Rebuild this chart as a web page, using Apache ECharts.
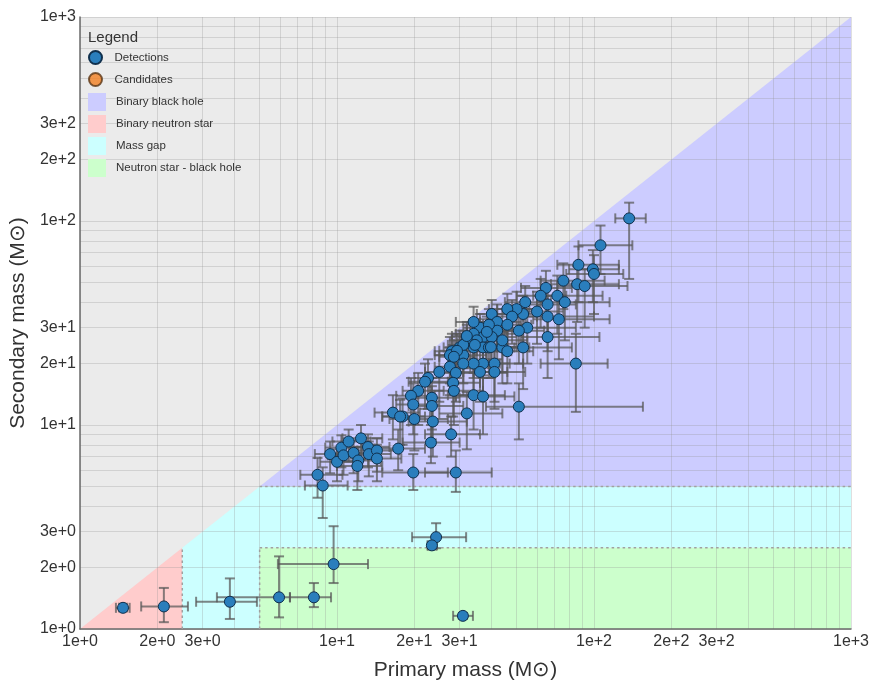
<!DOCTYPE html>
<html><head><meta charset="utf-8">
<script src="https://cdn.jsdelivr.net/npm/echarts@6/dist/echarts.min.js"></script>
<style>html,body{margin:0;padding:0;background:#fff}#chart{width:873px;height:686px}</style>
</head><body><div id="chart"></div>
<script>
// Detections: primary mass, secondary mass and 90% credible bounds (solar masses)
const primaryMass = [
  1.47, 2.12, 3.83, 5.95, 9.7, 8.13, 24.3, 23.4, 30.9,
  137, 106, 87, 99, 100, 76, 86, 92, 65, 62, 72, 77, 66, 54, 60, 73, 66, 53, 50, 46,
  48, 40, 42, 46, 55, 51, 42, 36, 34, 39, 37, 34, 35, 32, 40, 30, 28, 27.5, 31, 34,
  37, 39, 44, 46, 44, 66, 53, 37, 34, 41, 31, 85, 27.5, 36, 41, 29, 25, 22.6, 22, 20.7,
  19.4, 19.8, 20, 18, 16.5, 23.4, 23.4, 23.6, 28.3, 28.5, 34, 37, 32, 51, 29, 19.8, 23.2, 27.8,
  17.3, 8.4, 8.8, 9.4, 10.4, 11.1, 12.4, 10.0, 10.6, 11.6, 12.1, 12, 13.2, 13.3, 14.3, 14.3,
  31, 34.4, 39.7, 32, 38.3, 29.3, 17.6, 28.5
];
const secondaryMass = [
  1.27, 1.29, 1.36, 1.43, 2.08, 1.43, 2.82, 2.57, 1.16,
  103, 76, 61, 58, 55, 51, 49, 48, 47, 43, 43, 40, 39, 40, 36, 33, 34, 35, 37, 37,
  34, 35, 32, 31, 30, 29, 29, 30, 32, 31, 27, 28, 26, 26, 27, 24, 23, 22, 22, 24,
  24, 24, 24, 23, 26, 27, 24, 20, 20, 20, 20, 20, 19.3, 18.2, 18.2, 18, 18.2, 17, 16.3, 14.7,
  13.9, 12.6, 10.7, 11, 11.5, 13.6, 12.4, 10.4, 16.1, 14.7, 14, 13.8, 11.4, 12.3, 5.85, 5.85, 8.2, 9.0,
  7.66, 5.7, 5.05, 7.2, 7.75, 8.3, 8.6, 6.6, 7.1, 7.3, 6.7, 6.3, 7.8, 7.2, 7.5, 6.85,
  24.7, 24.7, 24.1, 27.3, 28.6, 23.1, 11, 21.6
];
const primaryLow = [
  1.38, 1.73, 2.83, 3.41, 5.89, 6.56, 19.6, 22.5, 28.3,
  121, 87, 72, 80, 78, 62, 68, 72, 52, 50, 58, 60, 54, 45, 49, 58, 53, 44, 42, 39,
  40, 35, 36, 39, 45, 42, 36, 31, 29, 33, 31, 29, 30, 28, 34, 26, 24, 24, 27, 29,
  31, 33, 37, 38, 37, 52, 43, 31, 29, 34, 27, 62, 24, 30, 34, 25, 22, 20, 19, 18,
  17, 17, 16, 15, 14, 20, 19, 19, 23, 23, 27, 29, 25, 38, 22, 15, 18, 22,
  14, 7.2, 7.5, 8.2, 9, 9.6, 10.5, 8.6, 9.2, 10, 10.3, 10, 11.2, 11.3, 12, 12,
  27, 29, 33, 28, 32, 25, 15, 25
];
const primaryHigh = [
  1.56, 2.63, 4.88, 6.56, 13.2, 9.48, 31.8, 24.5, 33.8,
  159, 141, 125, 125, 130, 110, 125, 135, 82, 78, 108, 115, 85, 68, 76, 115, 100, 66, 61, 56,
  60, 48, 52, 57, 85, 64, 52, 44, 42, 48, 45, 41, 43, 39, 50, 37, 34, 33, 38, 42,
  46, 49, 56, 58, 55, 105, 82, 47, 43, 53, 39, 113, 33, 46, 54, 36, 31, 28, 27, 26,
  24, 25, 27, 23, 21, 30, 31, 32, 36, 37, 45, 49, 44, 155, 40, 27, 30, 36,
  22, 10.5, 11, 11.5, 12.5, 13.5, 15, 12.2, 12.8, 14, 14.8, 15, 16, 16.2, 17.5, 17.8,
  37, 42, 50, 38, 46, 35, 22, 34
];
const secondaryLow = [
  1.22, 1.08, 1.12, 1.14, 1.68, 1.28, 2.49, 2.45, 1.12,
  52, 55, 40, 40, 35, 37, 32, 30, 34, 30, 28, 26, 27, 29, 25, 21, 23, 25, 28, 28,
  25, 27, 24, 22, 20, 20, 21, 23, 25, 24, 20, 21, 19, 19, 19, 18, 17, 16, 16, 17,
  17, 17, 16, 16, 18, 17, 15, 14, 14, 13, 14, 11.6, 14, 13, 12, 13, 13, 12, 12, 10,
  10, 9, 7.5, 8, 8.5, 9.5, 8.5, 7, 11, 10, 9.5, 9, 7.6, 8.5, 4.7, 4.8, 6.5, 7,
  6, 4.4, 3.5, 5.8, 6.2, 6.6, 6.8, 5.3, 5.7, 5.8, 5.3, 4.8, 6.2, 5.6, 5.9, 5.3,
  19, 19, 17, 21, 21, 17, 8, 16
];
const secondaryHigh = [
  1.33, 1.59, 1.77, 2.27, 3.19, 1.68, 3.30, 2.68, 1.2,
  123, 95, 75, 72, 68, 62, 60, 58, 57, 52, 54, 50, 48, 48, 45, 42, 43, 43, 45, 44,
  41, 41, 39, 37, 37, 35, 35, 35, 38, 37, 33, 33, 31, 31, 33, 29, 28, 27, 27, 29,
  30, 30, 30, 29, 32, 35, 31, 26, 25, 26, 25, 28, 24, 23, 23, 22, 22, 21, 20, 18,
  17, 16, 13.5, 13.5, 14, 17, 15.5, 13, 20, 18.5, 18, 17.5, 14.5, 16, 7.5, 7.2, 10, 11,
  9.5, 6.9, 6.2, 8.3, 8.9, 9.5, 10, 7.6, 8.1, 8.4, 7.8, 7.3, 9, 8.3, 8.6, 8,
  29, 29, 30, 32, 34, 28, 13.3, 26
];
const candidatePrimary = [];
const candidateSecondary = [];

// Source-class regions (vertices as [primary, secondary] masses)
const regionBBH = [[5, 5], [1000, 1000], [1000, 5]];
const regionBNS = [[1, 1], [2.5, 2.5], [2.5, 1]];
const regionGap = [[2.5, 1], [2.5, 2.5], [5, 5], [1000, 5], [1000, 2.5], [5, 2.5], [5, 1]];
const regionNSBH = [[5, 1], [5, 2.5], [1000, 2.5], [1000, 1]];
const regionAll = [[1, 1], [1, 1000], [1000, 1000], [1000, 1]];
const boundaryLines = [[5, 5, 1000, 5], [5, 2.5, 1000, 2.5], [2.5, 1, 2.5, 2.5], [5, 1, 5, 2.5]];

const tickValues = [1,2,3,4,5,6,7,8,9,10,20,30,40,50,60,70,80,90,100,200,300,400,500,600,700,800,900,1000];
const labelValues = [1, 2, 3, 10, 20, 30, 100, 200, 300, 1000];

function fmt(v) {
  const e = Math.floor(Math.log10(v) + 1e-9);
  const m = Math.round(v / Math.pow(10, e));
  return m + 'e+' + e;
}

const chart = echarts.init(document.getElementById('chart'), null, {renderer: 'canvas'});

function regionSeries(name, verts, color, inLegend) {
  return {
    name: inLegend ? name : undefined,
    type: 'custom',
    z: 1,
    silent: true,
    itemStyle: {color: color},
    data: [[1, 1]],
    renderItem: function (params, api) {
      return {
        type: 'polygon',
        shape: {points: verts.map(function (v) { return api.coord(v); })},
        style: {fill: color, stroke: null}
      };
    }
  };
}

function axisCommon(name) {
  return {
    type: 'log',
    logBase: 10,
    min: 1,
    max: 1000,
    z: 2,
    name: name,
    nameLocation: 'middle',
    nameTextStyle: {fontSize: 21, color: '#333', fontFamily: 'Liberation Sans, Arial, sans-serif'},
    axisLine: {show: true, lineStyle: {color: '#6a6a6a', width: 1.5}},
    axisTick: {show: false, customValues: tickValues},
    axisLabel: {
      customValues: labelValues,
      formatter: fmt,
      fontSize: 16,
      color: '#333',
      fontFamily: 'Liberation Sans, Arial, sans-serif',
      showMinLabel: true,
      showMaxLabel: true,
      hideOverlap: false
    },
    splitLine: {show: true, lineStyle: {color: 'rgba(150,150,150,0.3)', width: 1}},
    minorSplitLine: {show: false}
  };
}

const xAxis = axisCommon('Primary mass (M\u2299)');
xAxis.nameGap = 31;
xAxis.axisLabel.margin = 5;
const yAxis = axisCommon('Secondary mass (M\u2299)');
yAxis.nameGap = 43;
yAxis.axisLabel.margin = 4;

const detections = primaryMass.map(function (m, i) { return [m, secondaryMass[i]]; });
const errorRows = primaryMass.map(function (m, i) {
  return [m, secondaryMass[i], primaryLow[i], primaryHigh[i], secondaryLow[i], secondaryHigh[i]];
});
const candidates = candidatePrimary.map(function (m, i) { return [m, candidateSecondary[i]]; });

const option = {
  animation: false,
  backgroundColor: '#ffffff',
  textStyle: {fontFamily: 'Liberation Sans, Arial, sans-serif'},
  grid: {left: 80, right: 22, top: 17, bottom: 55, containLabel: false},
  title: {
    text: 'Legend', left: 88, top: 30, padding: 0,
    textStyle: {fontSize: 15, fontWeight: 'normal', color: '#333', fontFamily: 'Liberation Sans, Arial, sans-serif'}
  },
  legend: [
    {
      orient: 'vertical', left: 88, top: 50, padding: 0,
      itemWidth: 18, itemHeight: 13, itemGap: 7,
      data: [{name: 'Detections', icon: 'circle'}, {name: 'Candidates', icon: 'circle'}],
      textStyle: {fontSize: 11.5, color: '#333', padding: [0, 0, 0, 5]},
      selectedMode: false
    },
    {
      orient: 'vertical', left: 88, top: 93, padding: 0,
      itemWidth: 18, itemHeight: 18, itemGap: 4,
      data: [
        {name: 'Binary black hole', icon: 'rect'},
        {name: 'Binary neutron star', icon: 'rect'},
        {name: 'Mass gap', icon: 'rect'},
        {name: 'Neutron star - black hole', icon: 'rect'}
      ],
      textStyle: {fontSize: 11.5, color: '#333', padding: [0, 0, 0, 5]},
      selectedMode: false
    }
  ],
  xAxis: xAxis,
  yAxis: yAxis,
  series: [
    regionSeries('background', regionAll, '#ebebeb', false),
    regionSeries('Binary black hole', regionBBH, '#ccccff', true),
    regionSeries('Binary neutron star', regionBNS, '#ffcccc', true),
    regionSeries('Mass gap', regionGap, '#ccffff', true),
    regionSeries('Neutron star - black hole', regionNSBH, '#ccffcc', true),
    {
      type: 'custom', z: 3, silent: true,
      data: boundaryLines,
      renderItem: function (params, api) {
        const a = api.coord([api.value(0), api.value(1)]);
        const b = api.coord([api.value(2), api.value(3)]);
        return {
          type: 'line',
          shape: {x1: a[0], y1: a[1], x2: b[0], y2: b[1]},
          style: {stroke: '#a0a0a0', lineWidth: 1.5, lineDash: [2.5, 3]}
        };
      }
    },
    {
      type: 'custom', z: 4, silent: true,
      data: errorRows,
      encode: {x: [0, 2, 3], y: [1, 4, 5]},
      renderItem: function (params, api) {
        const x = api.value(0), y = api.value(1);
        const l = api.coord([api.value(2), y]);
        const r = api.coord([api.value(3), y]);
        const b = api.coord([x, api.value(4)]);
        const t = api.coord([x, api.value(5)]);
        const c = 5;
        const st = {stroke: 'rgba(88,88,88,0.72)', lineWidth: 2, fill: null};
        function ln(x1, y1, x2, y2) { return {type: 'line', shape: {x1: x1, y1: y1, x2: x2, y2: y2}, style: st}; }
        return {
          type: 'group',
          children: [
            ln(l[0], l[1], r[0], r[1]),
            ln(l[0], l[1] - c, l[0], l[1] + c),
            ln(r[0], r[1] - c, r[0], r[1] + c),
            ln(b[0], b[1], t[0], t[1]),
            ln(b[0] - c, b[1], b[0] + c, b[1]),
            ln(t[0] - c, t[1], t[0] + c, t[1])
          ]
        };
      }
    },
    {
      name: 'Detections', type: 'scatter', z: 5,
      symbol: 'circle', symbolSize: 11,
      itemStyle: {color: '#2a7ebc', borderColor: '#10304d', borderWidth: 1, opacity: 1},
      data: detections
    },
    {
      name: 'Candidates', type: 'scatter', z: 5,
      symbol: 'circle', symbolSize: 11,
      itemStyle: {color: '#f28022', borderColor: '#5a3414', borderWidth: 1},
      data: candidates
    }
  ]
};
chart.setOption(option);
</script></body></html>
